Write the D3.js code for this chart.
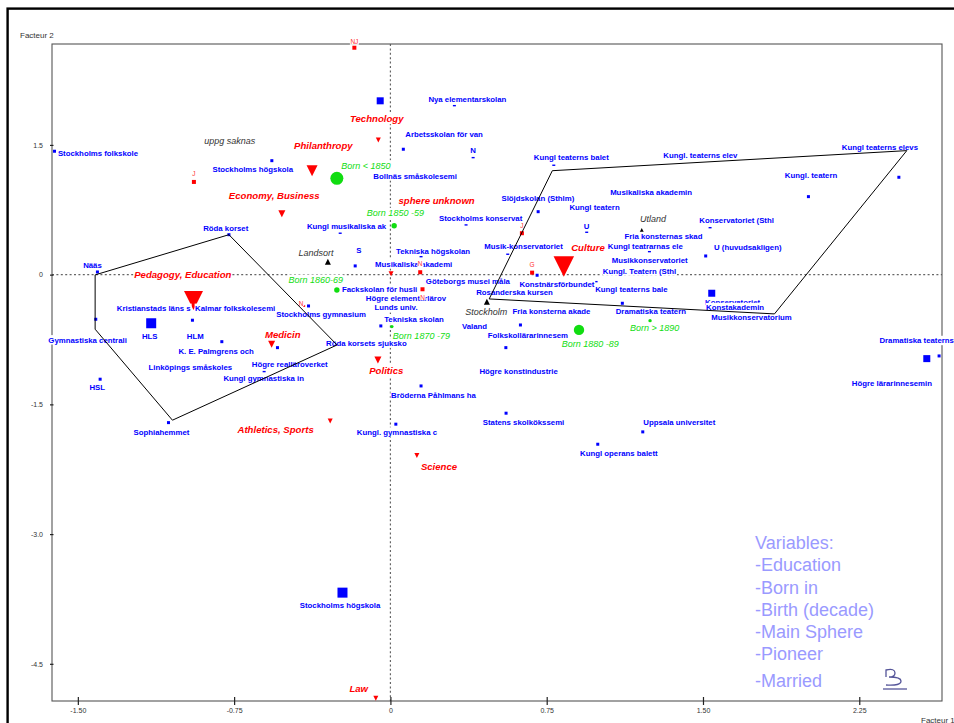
<!DOCTYPE html>
<html><head><meta charset="utf-8">
<script src="https://cdn.jsdelivr.net/npm/d3@7"></script>
<style>body{margin:0;background:#fff}svg{display:block}</style>
</head><body>
<svg id="c" width="954" height="723"></svg>
<script>
// ---------- DATA ----------
// Education: [label, factor1, factor2, weight class]
const education = [
 ["Stockholms folkskole",-1.612,1.427,2],["Stockholms högskola",-0.569,1.318,2],["Röda korset",-0.775,0.462,2],
 ["Kungl musikaliska ak",-0.241,0.479,1],["Nya elementarskolan",0.307,1.954,1],["Arbetsskolan för van",0.062,1.450,2],
 ["N",0.397,1.353,1],["Kungl teaterns balet",0.784,1.265,1],["Bollnäs småskolesemi",-0.069,1.116,0],
 ["Stockholms konservat",0.363,0.575,1],["Slöjdskolan (Sthlm)",0.709,0.728,2],["Kungl teatern",0.872,0.757,0],
 ["U",0.942,0.490,1],["Musikaliska akademin",1.064,0.922,0],["Kungl. teaterns elev",1.318,1.353,0],
 ["Kungl teaterns elevs",2.478,1.434,0],["",2.440,1.126,2],["Kungl. teatern",2.006,0.902,2],
 ["Konservatoriet (Sthl",1.534,0.543,1],["Fria konsternas skad",1.141,0.413,0],["Kungl teatrarnas ele",1.243,0.266,1],
 ["Musikkonservatoriet",1.078,0.147,0],["Kungl. Teatern (Sthl",1.035,0.020,0],["U (huvudsakligen)",1.513,0.216,2],
 ["Kungl teaterns bale",0.997,-0.188,0],["Dramatiska teatern",1.113,-0.331,2],["Konservatoriet",1.542,-0.215,3],
 ["Konstakademin",1.534,-0.397,0],["Musikkonservatorium",1.843,-0.454,0],["Dramatiska teaterns",2.633,-0.940,2],
 ["Högre lärarinnesemin",2.574,-0.971,3],["Uppsala universitet",1.211,-1.818,2],["Kungl operans balett",0.995,-1.961,2],
 ["Statens skolkökssemi",0.555,-1.602,2],["Högre konstindustrie",0.440,-1.137,0],["Folkskollärarinnesem",0.554,-0.844,2],
 ["Fria konsterna akade",0.624,-0.582,2],["Valand",0.354,-0.616,0],["Rosanderska kursen",0.426,-0.235,0],
 ["Konstnärsförbundet",0.704,-0.007,2],["",0.987,-0.081,1],["Musik-konservatoriet",0.563,0.236,1],
 ["Göteborgs musei måla",0.181,-0.108,0],["Tekniska högskolan",0.147,0.208,1],["Musikaliska akademi",-0.059,0.101,0],
 ["S",-0.169,0.101,2],["Fackskolan för husli",-0.217,-0.188,0],["Högre elementarlärov",-0.107,-0.292,0],
 ["Lunds univ.",-0.064,-0.397,0],["Tekniska skolan",-0.046,-0.593,2],["Stockholms gymnasium",-0.393,-0.362,2],
 ["Röda korsets sjuksko",-0.256,-0.813,0],["Bröderna Påhlmans ha",0.147,-1.287,2],["Kungl. gymnastiska c",0.026,-1.729,2],
 ["Stockholms högskola",-0.230,-3.677,4],["Nääs",-1.406,0.031,2],["Gymnastiska centrali",-1.414,-0.516,2],
 ["HLS",-1.148,-0.562,4],["HLM",-0.950,-0.527,2],["Kristianstads läns s",-1.297,-0.411,0],
 ["Kalmar folkskolesemi",-0.923,-0.411,0],["K. E. Palmgrens och",-0.809,-0.775,2],["Linköpings småskoles",-1.148,-1.090,0],
 ["Högre realläroverket",-0.542,-0.844,2],["Kungl gymnastiska in",-0.606,-1.121,1],["HSL",-1.393,-1.209,2],
 ["Sophiahemmet",-1.065,-1.711,2],["",-0.049,2.010,3]
];
// Born in
const bornIn = [["uppg saknas",-0.769,1.534,0],["Landsort",-0.300,0.150,2],["Stockholm",0.463,-0.312,2],["Utland",1.206,0.517,1]];
// Birth (decade)
const birthDecade = [["Born < 1850",-0.257,1.114,4],["Born 1850 -59",0.018,0.566,2],["Born 1860-69",-0.257,-0.177,2],
 ["Born 1870 -79",0.007,-0.601,1],["Born 1880 -89",0.905,-0.639,3],["Born > 1890",1.246,-0.532,1]];
// Main sphere
const mainSphere = [["Philanthropy",-0.376,1.201,4],["Technology",-0.058,1.557,1],["Economy, Business",-0.521,0.705,2],
 ["sphere unknown",0.047,0.829,0],["",0.003,0.010,1],["Pedagogy, Education",-0.945,-0.298,5],["Medicin",-0.570,-0.805,2],
 ["Athletics, Sports",-0.289,-1.693,1],["Politics",-0.060,-0.986,2],["Science",0.127,-2.092,1],["Law",-0.070,-4.897,1],
 ["Culture",0.832,0.093,6]];
// Pioneer / Married
const pioneerMarried = [["NJ",-0.173,2.624],["J",-0.943,1.072],["J",0.631,0.479],["N",0.143,0.028],["N",0.154,-0.169],
 ["G",0.680,0.023],["N",-0.414,-0.362]];
// hulls
const hullLeft = [[-1.417,-0.003],[-0.775,0.462],[-0.256,-0.813],[-1.046,-1.683],[-1.417,-0.631]];
const hullRight = [[0.777,1.202],[2.478,1.434],[1.843,-0.454],[0.474,-0.281]];
// ticks
const xTicks = [-1.5,-0.75,0,0.75,1.5,2.25];
const xTickLabels = ["-1.50","-0.75","0","0.75","1.50","2.25"];
const yTicks = [1.5,0,-1.5,-3.0,-4.5];
const yTickLabels = ["1.5","0","-1.5","-3.0","-4.5"];
const variablesText = ["Variables:","-Education","-Born in","-Birth (decade)","-Main Sphere","-Pioneer","-Married"];

// ---------- LAYOUT (label nudges, px) ----------
const eduOff = [[3.4,2],[-59.4,8.3],[-25.7,-6.7],[-33.3,-7.3],[-26,-6.7],[2,-15.3],[-3,-7],[-20,-7.6],[-2.7,-2.3],
 [-27,-6.7],[-36.7,-13.4],[-2.7,-1.7],[-3,-6.3],[-2,-2.3],[-1.7,-2.3],[-65,-3],[0,0],[-23.6,-21],[-10.7,-7.7],[-3.7,-2.3],
 [-41.6,-5.7],[-3.3,-2],[-3.3,-2],[8.3,-8.7],[-3,-2],[-6.6,8.4],[-6.7,9.5],[-4,-1.3],[-63.3,3],[-59.7,-15.3],[-75,24.3],
 [0.6,-10],[-17.7,9],[-23.3,8.7],[-2.7,-2],[-18,-12.7],[-8,-13.3],[-2.3,-2],[-3,-2.3],[-17.7,8.7],[0,0],[-23.4,-7.6],
 [-2.3,-2.3],[-25,-5.7],[-3,-2],[1,-16],[-3.3,-1.7],[-2.3,-1.7],[-2.7,-1.3],[3.3,-7],[-32.3,8.3],[-11,-1.7],[-30,9],
 [-39,8],[-42.7,13],[-14.3,-7],[-47.4,20.7],[-9.3,12.7],[-5.6,15.7],[-3.3,-1.7],[-3,-1.7],[-43.4,9.3],[-2.7,-2],
 [-25.6,16.3],[-40.7,7],[-10.7,8.4],[-35,9.3],[0,0]];
const bornOff = [[-26,-1.3],[-29.4,-8.4],[-21.7,10.3],[-1.7,-11.3]];
const decOff = [[4.3,-12.6],[-27.3,-12.4],[-48.4,-10],[1,9],[-17.3,14.3],[-20,7.6]];
const sphOff = [[-18,-24.8],[-28.3,-21],[-53,-17.7],[-1.7,-2],[0,0],[-59.3,-25.5],[-6.7,-10],[-92.7,8.3],[-8.7,11],[4,11.3],[-26.4,-10],[7.4,-19.4]];
const pmOff = [[0,-6],[0,-8.3],[0,-7.3],[0,-8.3],[0,8],[0,-7.7],[-3,-2.7]];

// ---------- DRAW ----------
const svg = d3.select("#c");
const FONT = "Arial, 'Liberation Sans', sans-serif";
const x = d3.scaleLinear().domain([-1.624,2.647]).range([52,942]);
const y = d3.scaleLinear().domain([2.667,-4.93]).range([44,701]);
const sqSize = d3.scaleOrdinal().domain([0,1,2,3,4]).range([0,3,3,7,10]);
const triSize = d3.scaleOrdinal().domain([0,1,2,3,4,5,6]).range([0,5,7,9,11,19,20.5]);
const upTri = d3.scaleOrdinal().domain([0,1,2]).range([0,4,6]);
const circR = d3.scaleOrdinal().domain([0,1,2,3,4]).range([0,1.7,2.7,5.2,6.5]);

svg.append("rect").attr("width",954).attr("height",723).attr("fill","#fff");
svg.append("rect").attr("x",7.6).attr("y",8.6).attr("width",990).attr("height",760)
  .attr("fill","none").attr("stroke","#000").attr("stroke-width",2.4);

// zero lines
svg.append("line").attr("x1",x.range()[0]).attr("x2",x.range()[1]).attr("y1",y(0)).attr("y2",y(0))
  .attr("stroke","#666").attr("stroke-width",1.2).attr("stroke-dasharray","2,2.4");
svg.append("line").attr("y1",y.range()[0]).attr("y2",y.range()[1]).attr("x1",x(0)).attr("x2",x(0))
  .attr("stroke","#666").attr("stroke-width",1.2).attr("stroke-dasharray","2,2.4");

// frame
svg.append("rect").attr("x",52).attr("y",44).attr("width",890).attr("height",657)
  .attr("fill","none").attr("stroke","#555").attr("stroke-width",1.1);

// axes
const ax = svg.append("g").attr("transform","translate(0,701)")
  .call(d3.axisBottom(x).tickValues(xTicks).tickSize(4).tickPadding(3).tickFormat((d,i)=>xTickLabels[i]));
ax.select(".domain").remove();
ax.selectAll(".tick line").attr("y1",-4).attr("stroke","#222").attr("stroke-width",1.2);
ax.selectAll("text").attr("font-family",FONT).attr("font-size",7).attr("fill","#333");
const ay = svg.append("g").attr("transform","translate(52,0)")
  .call(d3.axisLeft(y).tickValues(yTicks).tickSize(2).tickPadding(7).tickFormat((d,i)=>yTickLabels[i]));
ay.select(".domain").remove();
ay.selectAll(".tick line").attr("x1",1.5).attr("stroke","#222").attr("stroke-width",1.2);
ay.selectAll("text").attr("font-family",FONT).attr("font-size",7).attr("fill","#333");

svg.append("text").attr("x",20).attr("y",38).text("Facteur 2").attr("font-family",FONT).attr("font-size",8).attr("fill","#333");
svg.append("text").attr("x",921).attr("y",723).text("Facteur 1").attr("font-family",FONT).attr("font-size",8).attr("fill","#333");

// markers
const mk = svg.append("g");
education.forEach(d=>{
  const s = sqSize(d[3]); if(!s) return;
  const h = d[3]===1 ? 1.4 : s;
  mk.append("rect").attr("x",x(d[1])-s/2).attr("y",y(d[2])-h/2).attr("width",s).attr("height",h).attr("fill","#0000ff");
});
bornIn.forEach(d=>{
  const s = upTri(d[3]); if(!s) return;
  const cx=x(d[1]), cy=y(d[2]);
  mk.append("path").attr("d",`M${cx-s/2},${cy+s/2}L${cx+s/2},${cy+s/2}L${cx},${cy-s/2}Z`).attr("fill","#000");
});
birthDecade.forEach(d=>{
  mk.append("circle").attr("cx",x(d[1])).attr("cy",y(d[2])).attr("r",circR(d[3])).attr("fill","#11dd11");
});
mainSphere.forEach(d=>{
  const s = triSize(d[3]); if(!s) return;
  const cx=x(d[1]), cy=y(d[2]);
  mk.append("path").attr("d",`M${cx-s/2},${cy-s/2}L${cx+s/2},${cy-s/2}L${cx},${cy+s/2}Z`).attr("fill","#ff0000");
});
pioneerMarried.forEach((d,i)=>{
  const s = i===6 ? 2 : 4;
  mk.append("rect").attr("x",x(d[1])-s/2).attr("y",y(d[2])-s/2).attr("width",s).attr("height",s).attr("fill","#ff0000");
});

// labels with opaque background
const lb = svg.append("g");
function label(txt, px, py, opt){
  const g = lb.append("g");
  const r = g.append("rect").attr("fill","#fff");
  const t = g.append("text").attr("x",px).attr("y",py).attr("dy","0.35em").text(txt)
    .attr("font-family",FONT).attr("font-size",opt.size).attr("fill",opt.color)
    .attr("font-weight",opt.bold?"bold":"normal").attr("font-style",opt.italic?"italic":"normal")
    .attr("text-anchor",opt.anchor||"start");
  const b = t.node().getBBox();
  r.attr("x",b.x-0.5).attr("y",b.y-0.6).attr("width",b.width+1).attr("height",b.height+0.4);
}
education.forEach((d,i)=>{ if(!d[0]) return;
  label(d[0], x(d[1])+eduOff[i][0], y(d[2])+eduOff[i][1], {size:7.8,color:"#0000ff",bold:true}); });
bornIn.forEach((d,i)=> label(d[0], x(d[1])+bornOff[i][0], y(d[2])+bornOff[i][1], {size:9,color:"#333",italic:true}));
birthDecade.forEach((d,i)=> label(d[0], x(d[1])+decOff[i][0], y(d[2])+decOff[i][1], {size:9,color:"#11dd11",italic:true}));
mainSphere.forEach((d,i)=>{ if(!d[0]) return;
  label(d[0], x(d[1])+sphOff[i][0], y(d[2])+sphOff[i][1], {size:9.6,color:"#ff0000",italic:true,bold:true}); });
pioneerMarried.forEach((d,i)=> label(d[0], x(d[1])+pmOff[i][0], y(d[2])+pmOff[i][1], {size:6.5,color:"#ff3030",anchor:"middle"}));

// hulls on top
const ln = d3.line().x(p=>x(p[0])).y(p=>y(p[1]));
[hullLeft,hullRight].forEach(h=>{
  svg.append("path").attr("d",ln(h.concat([h[0]]))).attr("fill","none").attr("stroke","#000").attr("stroke-width",1);
});

// variables note
variablesText.forEach((t,i)=>{
  const cy = [542.7,564.3,587.7,610,631.7,654,681][i];
  svg.append("text").attr("x",755).attr("y",cy).attr("dy","0.35em").text(t)
    .attr("font-family",FONT).attr("font-size",18).attr("fill","#9a9aff");
});
// logo
svg.append("path").attr("d","M886,677 L886,670 Q895,668 895,673 Q895,677 889,677 Q901,677 901,681 Q901,686 886,685")
  .attr("fill","none").attr("stroke","#555599").attr("stroke-width",1.3);
svg.append("line").attr("x1",883).attr("x2",907).attr("y1",689).attr("y2",689).attr("stroke","#555599").attr("stroke-width",1.3);
</script>
</body></html>
